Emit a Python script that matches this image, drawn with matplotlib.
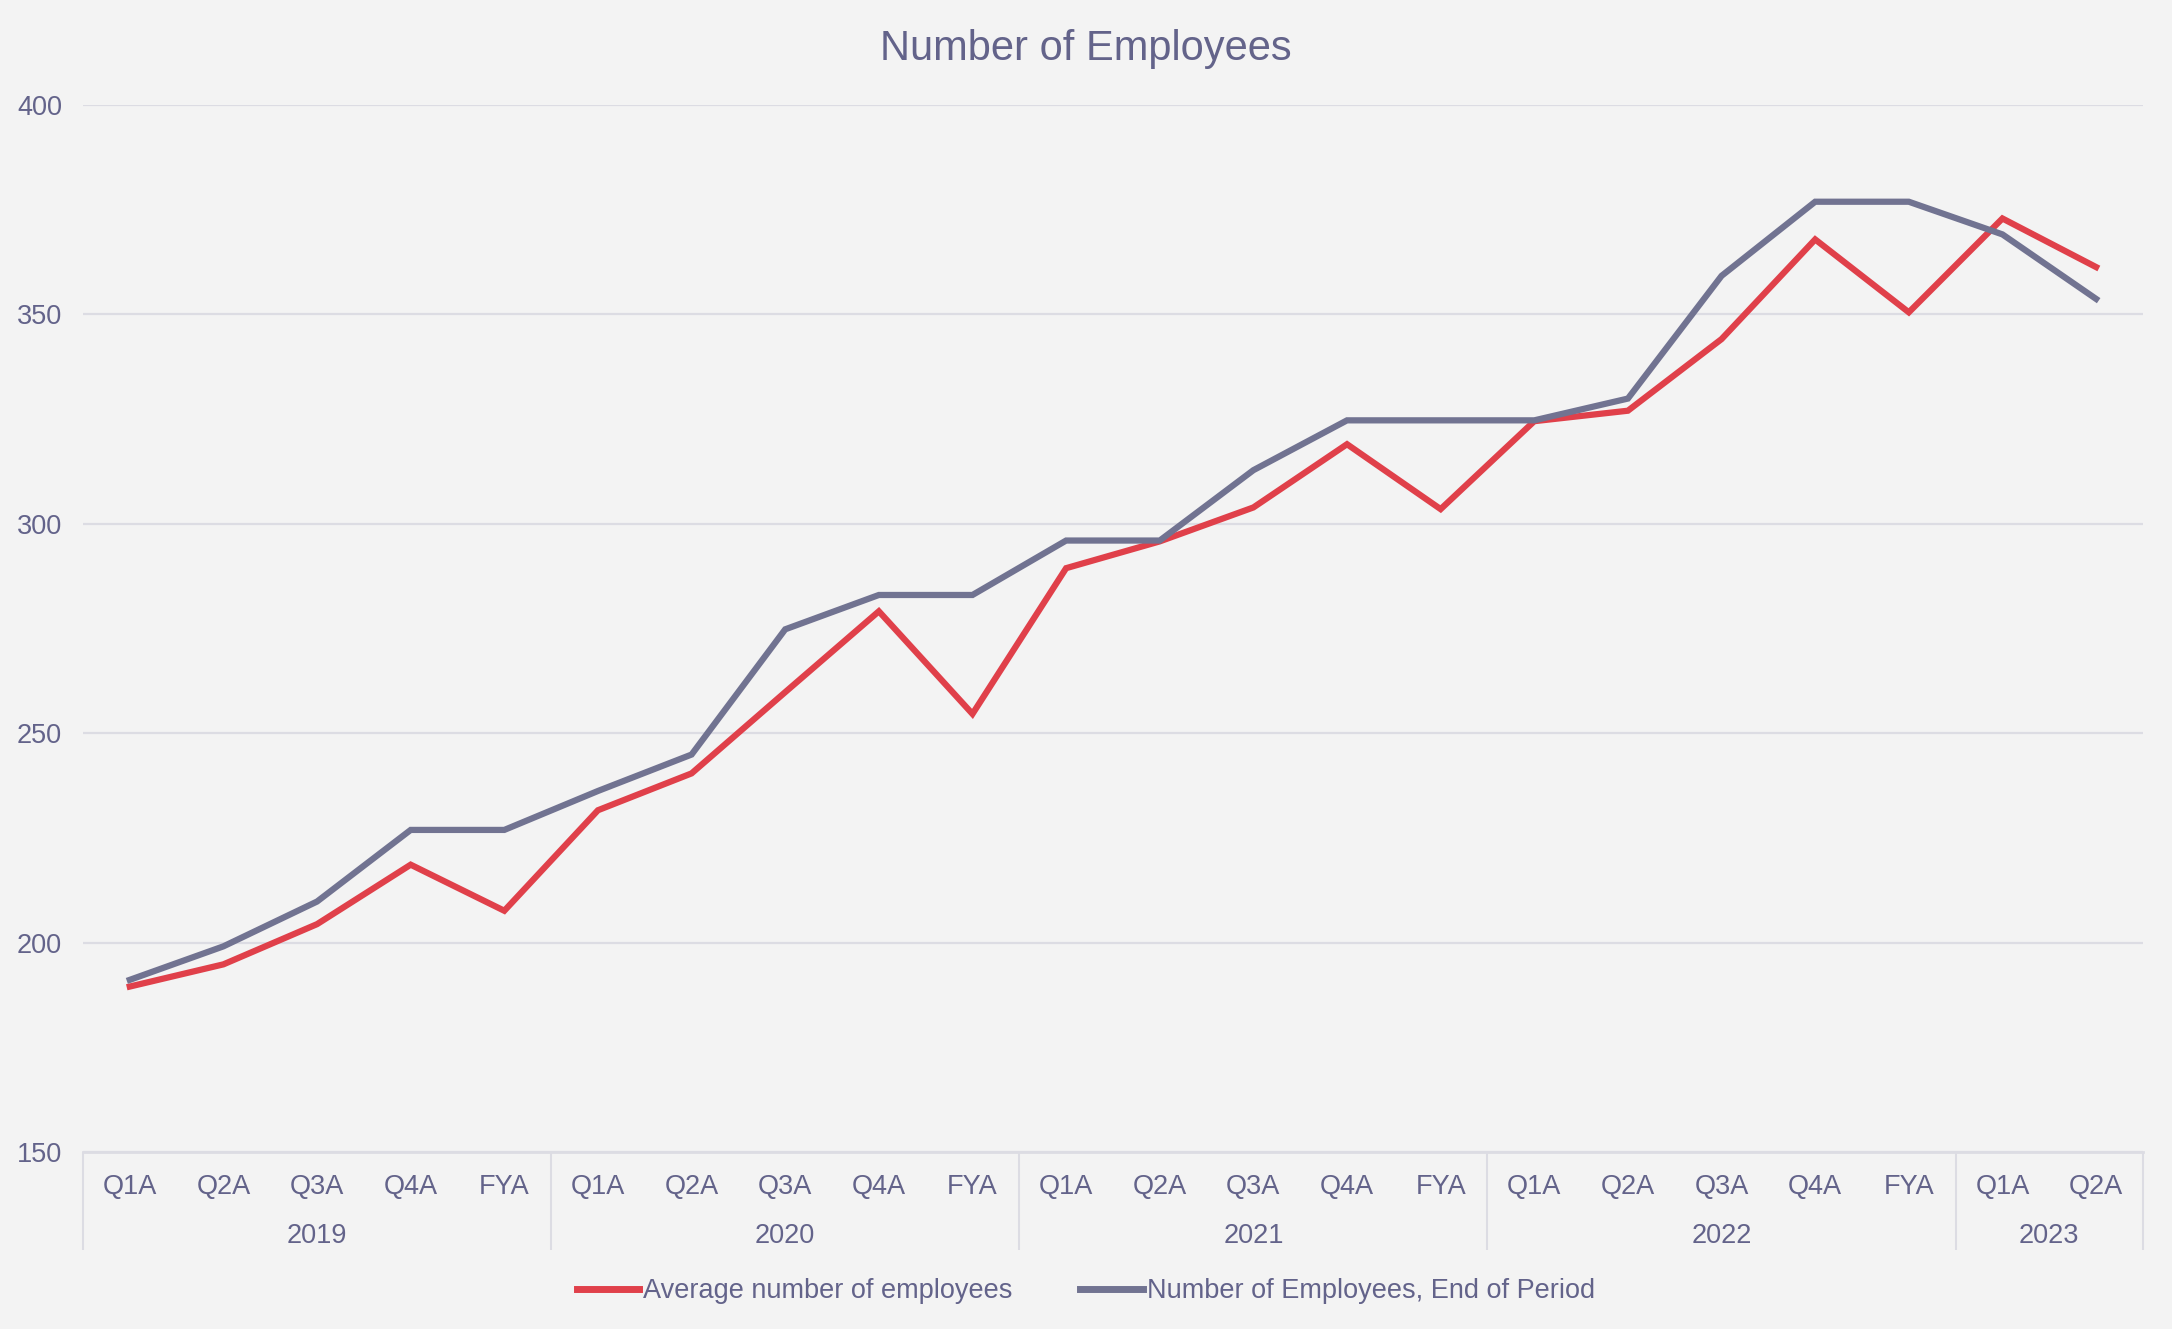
import matplotlib.pyplot as plt
import matplotlib.transforms as mtransforms

plt.rcParams['font.family'] = ['Liberation Sans', 'DejaVu Sans']

# data
years = ["2019", "2020", "2021", "2022", "2023"]
periods_per_year = [5, 5, 5, 5, 2]
periods = ["Q1A", "Q2A", "Q3A", "Q4A", "FYA"] * 4 + ["Q1A", "Q2A"]

avg_employees = [189.5, 194.8, 204.4, 218.6, 207.6,
                 231.6, 240.4, 259.8, 279.1, 254.6,
                 289.4, 295.8, 303.9, 319.0, 303.5,
                 324.5, 327.0, 344.1, 367.9, 350.5,
                 372.9, 361.3]
end_employees = [191.1, 199.1, 209.8, 226.9, 226.9,
                 236.2, 244.9, 274.8, 283.0, 283.0,
                 296.0, 296.0, 312.8, 324.7, 324.7,
                 324.7, 329.9, 359.2, 376.9, 376.9,
                 369.1, 353.7]

bg = "#F3F3F3"
txt = "#63638A"
red = "#E0404A"
grey = "#717391"
grid = "#DCDCE3"

fig = plt.figure(figsize=(21.72, 13.29), dpi=100, facecolor=bg)
ax = fig.add_axes([0.0382, 0.1332, 0.9484, 0.7878])
ax.set_facecolor(bg)

x = list(range(len(periods)))
ax.plot(x, avg_employees, color=red, lw=4.5, label="Average number of employees",
        solid_joinstyle="miter", zorder=3)
ax.plot(x, end_employees, color=grey, lw=4.5, label="Number of Employees, End of Period",
        solid_joinstyle="miter", zorder=3)

ax.set_xlim(-0.5, len(periods) - 0.5)
ax.set_ylim(150, 400)
ax.set_yticks([150, 200, 250, 300, 350, 400])
ax.yaxis.grid(True, color=grid, lw=1.6)
ax.set_axisbelow(True)
ax.tick_params(axis="y", length=0, pad=15, labelsize=19.5, labelcolor=txt)
ax.set_xticks([])
for s in ["top", "right", "left"]:
    ax.spines[s].set_visible(False)
ax.spines["bottom"].set_color(grid)
ax.spines["bottom"].set_linewidth(2)

# two-level category axis
trans = mtransforms.blended_transform_factory(ax.transData, ax.transAxes)
for i, p in enumerate(periods):
    ax.text(i, -0.0334, p, transform=trans, ha="center", va="center",
            fontsize=19.5, color=txt)

start = 0
bounds = [-0.5]
for yr, n in zip(years, periods_per_year):
    mid = start + (n - 1) / 2
    ax.text(mid, -0.0800, yr, transform=trans, ha="center", va="center",
            fontsize=19.5, color=txt)
    start += n
    bounds.append(start - 0.5)
ax.vlines(bounds, -0.0936, 0, transform=trans, colors=grid, lw=1.5, clip_on=False)

fig.text(0.5, 0.963, "Number of Employees", ha="center", va="center",
         fontsize=30, color=txt)

leg = fig.legend(loc="center", bbox_to_anchor=(0.5, 0.0286), ncol=2, frameon=False,
                 fontsize=19.5, handlelength=2.3, handletextpad=0.15,
                 columnspacing=2.5)
for t in leg.get_texts():
    t.set_color(txt)
for h in leg.legend_handles:
    h.set_linewidth(5)

fig.savefig("out.png", dpi=100, facecolor=bg)
